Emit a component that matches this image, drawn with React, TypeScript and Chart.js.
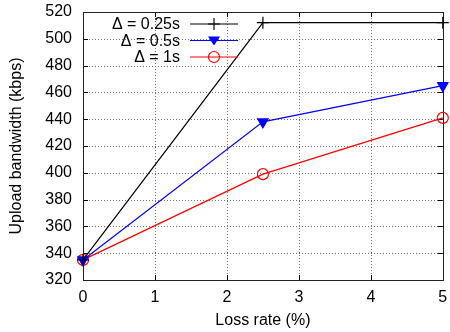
import React, { useEffect, useRef } from "react";
import { Chart, registerables } from "chart.js";

Chart.register(...registerables);

const lossRates = [0, 2.5, 5];
const bw025 = [335, 512, 512];
const bw05 = [335, 438, 465];
const bw1 = [335, 399, 441];
const seriesLabels = ["\u0394 = 0.25s", "\u0394 = 0.5s", "\u0394 = 1s"];
const xTitle = "Loss rate (%)";
const yTitle = "Upload bandwidth (kbps)";

const FONT = "'Liberation Sans', Arial, Helvetica, sans-serif";
const FS = 16;

const toPts = (ys: number[]) => lossRates.map((x, i) => ({ x, y: ys[i] }));

function drawMarker(ctx: CanvasRenderingContext2D, style: string, x: number, y: number, color: string) {
  ctx.save();
  ctx.strokeStyle = color;
  ctx.fillStyle = color;
  ctx.lineWidth = 1.2;
  if (style === "cross") {
    ctx.beginPath();
    ctx.moveTo(x - 6, y);
    ctx.lineTo(x + 6, y);
    ctx.moveTo(x, y - 6);
    ctx.lineTo(x, y + 6);
    ctx.stroke();
  } else if (style === "tri") {
    ctx.beginPath();
    ctx.moveTo(x - 6, y - 4);
    ctx.lineTo(x + 6, y - 4);
    ctx.lineTo(x, y + 5);
    ctx.closePath();
    ctx.fill();
  } else {
    ctx.beginPath();
    ctx.arc(x, y, 5.5, 0, Math.PI * 2);
    ctx.stroke();
  }
  ctx.restore();
}

const framePlugin = {
  id: "frame",
  beforeDatasetsDraw(chart: any) {
    const { ctx, chartArea: a, scales } = chart;
    ctx.save();
    ctx.strokeStyle = "#777";
    ctx.lineWidth = 1;
    ctx.setLineDash([1, 2]);
    scales.y.ticks.forEach((t: any) => {
      const y = Math.round(scales.y.getPixelForValue(t.value)) + 0.5;
      ctx.beginPath();
      ctx.moveTo(a.left, y);
      ctx.lineTo(a.right, y);
      ctx.stroke();
    });
    scales.x.ticks.forEach((t: any) => {
      const x = Math.round(scales.x.getPixelForValue(t.value)) + 0.5;
      ctx.beginPath();
      ctx.moveTo(x, a.top);
      ctx.lineTo(x, a.bottom);
      ctx.stroke();
    });
    ctx.setLineDash([]);
    ctx.strokeStyle = "#000";
    const L = 5;
    scales.y.ticks.forEach((t: any) => {
      const y = Math.round(scales.y.getPixelForValue(t.value)) + 0.5;
      ctx.beginPath();
      ctx.moveTo(a.left, y);
      ctx.lineTo(a.left + L, y);
      ctx.moveTo(a.right, y);
      ctx.lineTo(a.right - L, y);
      ctx.stroke();
    });
    scales.x.ticks.forEach((t: any) => {
      const x = Math.round(scales.x.getPixelForValue(t.value)) + 0.5;
      ctx.beginPath();
      ctx.moveTo(x, a.bottom);
      ctx.lineTo(x, a.bottom - L);
      ctx.moveTo(x, a.top);
      ctx.lineTo(x, a.top + L);
      ctx.stroke();
    });
    ctx.strokeStyle = "#222";
    ctx.strokeRect(Math.round(a.left) + 0.5, Math.round(a.top) + 0.5, Math.round(a.right - a.left), Math.round(a.bottom - a.top));
    ctx.restore();
  },
  afterDraw(chart: any) {
    const { ctx } = chart;
    const items = [
      { label: seriesLabels[0], color: "#000000", style: "cross" },
      { label: seriesLabels[1], color: "#0000ff", style: "tri" },
      { label: seriesLabels[2], color: "#ff0000", style: "circle" },
    ];
    ctx.save();
    ctx.font = `${FS}px ${FONT}`;
    ctx.textAlign = "right";
    ctx.textBaseline = "middle";
    items.forEach((it, i) => {
      const y = 24 + i * 16.5;
      ctx.fillStyle = "#000";
      ctx.fillText(it.label, 180, y + 1);
      ctx.strokeStyle = it.color;
      ctx.lineWidth = 1.2;
      ctx.beginPath();
      ctx.moveTo(190, y);
      ctx.lineTo(238, y);
      ctx.stroke();
      drawMarker(ctx, it.style, 214, y, it.color);
    });
    ctx.restore();
  },
};

const zeroPad = (s: any) => {
  s.paddingTop = 0;
  s.paddingBottom = 0;
  s.paddingLeft = 0;
  s.paddingRight = 0;
};

export default function App() {
  const ref = useRef<HTMLCanvasElement>(null);
  useEffect(() => {
    const chart = new Chart(ref.current!, {
      type: "line",
      data: {
        datasets: [
          {
            label: seriesLabels[0],
            data: toPts(bw025),
            borderColor: "#000000",
            backgroundColor: "#000000",
            borderWidth: 1.2,
            pointStyle: "cross",
            pointRadius: 6,
            pointBorderWidth: 1.2,
            clip: false as any,
          },
          {
            label: seriesLabels[1],
            data: toPts(bw05),
            borderColor: "#0000ff",
            backgroundColor: "#0000ff",
            borderWidth: 1.2,
            pointStyle: "triangle",
            pointRotation: 180,
            pointRadius: 6,
            clip: false as any,
          },
          {
            label: seriesLabels[2],
            data: toPts(bw1),
            borderColor: "#ff0000",
            backgroundColor: "rgba(0,0,0,0)",
            borderWidth: 1.2,
            pointStyle: "circle",
            pointRadius: 5.5,
            pointBorderWidth: 1.2,
            clip: false as any,
          },
        ],
      },
      options: {
        animation: false,
        responsive: false,
        devicePixelRatio: 1,
        layout: { padding: { top: 12, right: 5, left: 0, bottom: 0 } },
        plugins: { legend: { display: false }, tooltip: { enabled: false } },
        scales: {
          x: {
            type: "linear",
            min: 0,
            max: 5,
            ticks: { stepSize: 1, padding: 8, color: "#000", font: { family: FONT, size: FS } },
            grid: { display: false, drawTicks: false },
            border: { display: false },
            title: { display: true, text: xTitle, color: "#000", font: { family: FONT, size: FS }, padding: { top: 0, bottom: 2 } },
            afterFit: (s: any) => { s.height = 52; zeroPad(s); },
          },
          y: {
            type: "linear",
            min: 320,
            max: 520,
            ticks: { stepSize: 20, padding: 11, color: "#000", font: { family: FONT, size: FS } },
            grid: { display: false, drawTicks: false },
            border: { display: false },
            title: { display: true, text: yTitle, color: "#000", font: { family: FONT, size: FS }, padding: { top: 7, bottom: 0 } },
            afterFit: (s: any) => { s.width = 83; zeroPad(s); },
          },
        },
      },
      plugins: [framePlugin],
    });
    return () => chart.destroy();
  }, []);
  return (
    <div style={{ position: "fixed", left: 0, top: 0, width: 450, height: 332, background: "#fff" }}>
      <canvas ref={ref} width={450} height={332} />
    </div>
  );
}
